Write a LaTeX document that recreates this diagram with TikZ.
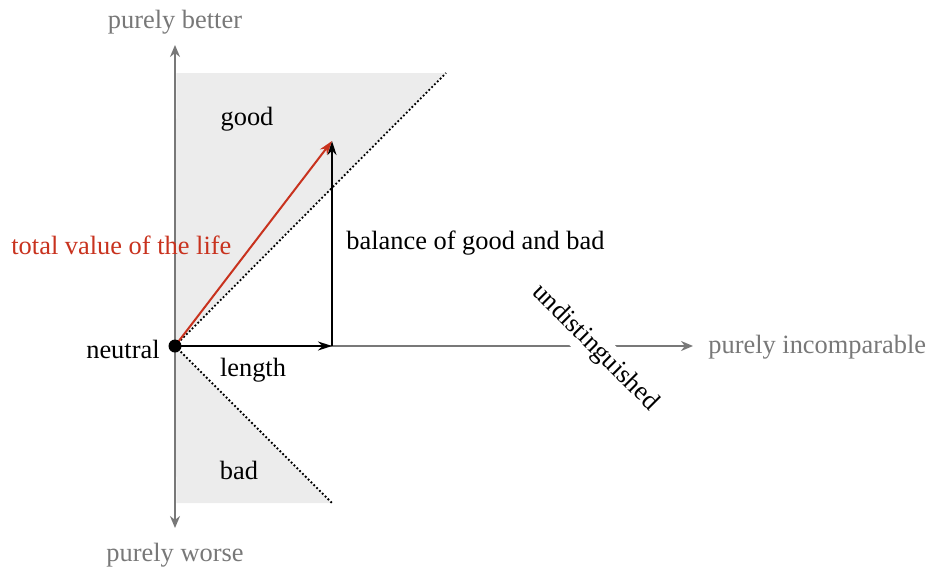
\documentclass[tikz,border=0pt]{standalone}
\usepackage{fontspec}
\setmainfont{Liberation Serif}
\usetikzlibrary{arrows.meta}
\definecolor{axisgrey}{RGB}{120,120,120}
\definecolor{fillgrey}{RGB}{236,236,236}
\definecolor{lifered}{RGB}{200,50,30}
\begin{document}
\begin{tikzpicture}[x=0.5pt,y=-0.5pt,
  font=\fontsize{13.2}{16}\selectfont,
  axis/.style={draw=axisgrey, line width=0.9pt, -{Stealth[length=6pt,width=5pt]}},
  greytext/.style={text=axisgrey, inner sep=1pt},
  blacktext/.style={text=black, inner sep=1pt},
  blackarrow/.style={draw=black, line width=1pt, -{Stealth[length=7pt,width=4.5pt]}},
  redarrow/.style={draw=lifered, line width=1pt, -{Stealth[length=7pt,width=4.5pt]}},
  boundary/.style={draw=black, line width=0.9pt, dash pattern=on 0.9pt off 1.1pt}
]
\useasboundingbox (0,0) rectangle (932,568);
% key points
\coordinate (o) at (175,346);
\coordinate (h) at (332,346);
\coordinate (v) at (332,141);
\coordinate (ut) at (446,73);
\coordinate (ul) at (176.5,73);
\coordinate (lb) at (332,503);
\coordinate (ll) at (176.5,503);
\coordinate (topend) at (175,45);
\coordinate (botend) at (175,528);
\coordinate (rightend) at (693,346);
% regions
\fill[fillgrey] (o) -- (ul) -- (ut) -- cycle;
\fill[fillgrey] (o) -- (lb) -- (ll) -- cycle;
% axis labels
\node[greytext] (pb) at (175,22) {purely better};
\node[greytext] (pw) at (175,555) {purely worse};
\node[greytext, anchor=west] (pi) at (706,347) {purely incomparable};
% axes
\draw[axis] (o) -- (topend);
\draw[axis] (o) -- (botend);
\draw[axis] (o) -- (rightend);
\node[blacktext, rotate=-45, fill=white, inner sep=2pt] (und) at (595,348) {undistinguished};
% boundaries
\draw[boundary] (o) -- (ut);
\draw[boundary] (o) -- (lb);
% arrows
\draw[blackarrow] (o) -- (h);
\draw[blackarrow] (h) -- (v);
\draw[redarrow] (o) -- (v);
\fill[black] (o) circle (6.5);
% labels
\node[blacktext] (good) at (247,119) {good};
\node[blacktext] (bad) at (239,470) {bad};
\node[blacktext] (len) at (253,370) {length};
\node[blacktext, anchor=east] (neu) at (162,349) {neutral};
\node[text=lifered, inner sep=1pt, anchor=west] (tv) at (9,245) {total value of the life};
\node[blacktext, anchor=west] (bal) at (344,243) {balance of good and bad};
\end{tikzpicture}
\end{document}
